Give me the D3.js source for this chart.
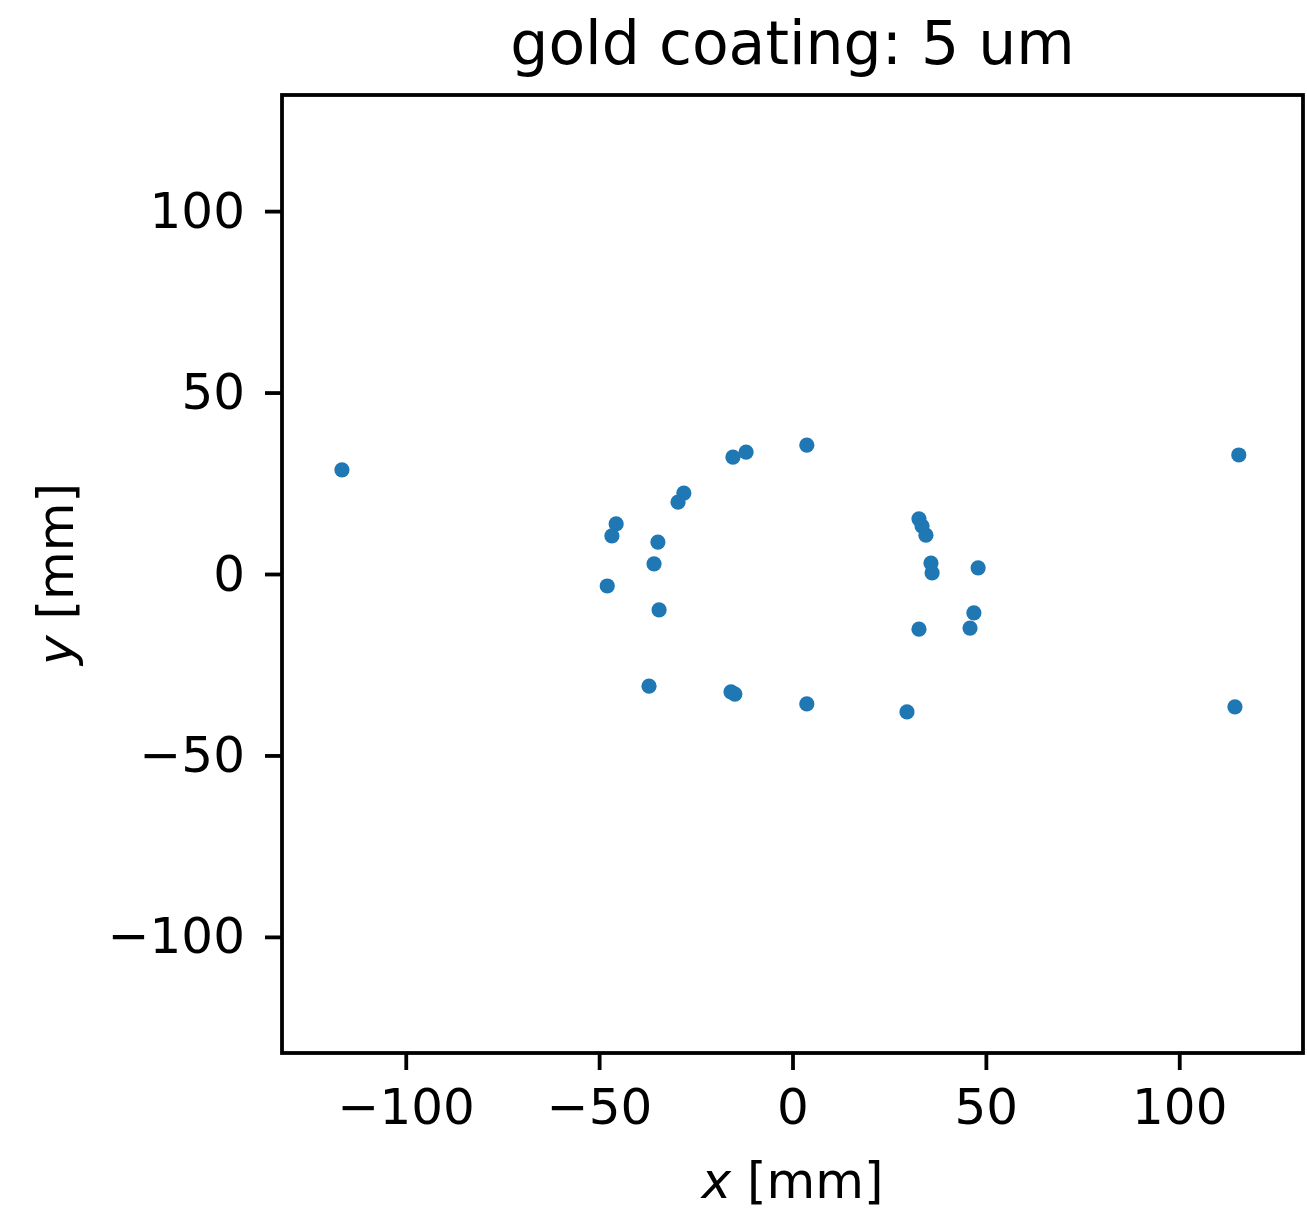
<!DOCTYPE html>
<html>
<head>
<meta charset="utf-8">
<script src="https://cdn.jsdelivr.net/npm/d3@7"></script>
<style>
  html, body { margin: 0; padding: 0; background: #fff; }
  svg text { font-family: "DejaVu Sans", sans-serif; fill: #000; }
</style>
</head>
<body>
<div id="chart"></div>
<script>
// Spot positions (mm)
const xValues = [-116.5, 115.4, 114.4, 3.7, -12.0, -15.4, -28.1, -29.6, -45.6, -46.7,
    -34.8, -35.8, -47.9, -34.5, -37.1, -15.9, -14.9, 3.7, 29.6, 32.7,
    33.5, 34.5, 35.8, 36.1, 48.0, 46.9, 45.9, 32.7];
const yValues = [28.7, 32.8, -36.6, 35.5, 33.6, 32.2, 22.3, 19.8, 13.8, 10.5,
    8.8, 2.8, -3.3, -9.9, -30.9, -32.5, -33.1, -35.8, -38.0, 15.2,
    13.2, 10.7, 3.0, 0.3, 1.7, -10.7, -14.9, -15.2];
const xTicks = [-100, -50, 0, 50, 100];
const yTicks = [-100, -50, 0, 50, 100];
const titleText = 'gold coating: 5 um';

const width = 1307;
const height = 1224;
const margin = { top: 95, right: 4, bottom: 171, left: 282 };
const tickFont = 50;

const svg = d3.select('#chart')
    .append('svg')
    .attr('width', width)
    .attr('height', height);

const xScale = d3.scaleLinear()
    .domain([-132, 132])
    .range([margin.left, width - margin.right]);

const yScale = d3.scaleLinear()
    .domain([-132, 132])
    .range([height - margin.bottom, margin.top]);

const points = xValues.map((x, i) => ({ x: x, y: yValues[i] }));

// Points
svg.append('g')
    .selectAll('circle')
    .data(points)
    .enter()
    .append('circle')
    .attr('cx', d => xScale(d.x))
    .attr('cy', d => yScale(d.y))
    .attr('r', 7.6)
    .attr('fill', '#1f77b4');

// Axes
const xAxis = svg.append('g')
    .attr('transform', `translate(0,${height - margin.bottom})`)
    .call(d3.axisBottom(xScale).tickValues(xTicks).tickSize(17).tickPadding(18));

const yAxis = svg.append('g')
    .attr('transform', `translate(${margin.left},0)`)
    .call(d3.axisLeft(yScale).tickValues(yTicks).tickSize(17).tickPadding(20));

[xAxis, yAxis].forEach(ax => {
    ax.select('.domain').remove();
    ax.selectAll('.tick line').attr('stroke', '#000').attr('stroke-width', 3.8);
    ax.selectAll('.tick text')
        .style('font-size', tickFont + 'px')
        .style('font-family', '"DejaVu Sans", sans-serif');
});

// Frame
svg.append('rect')
    .attr('x', margin.left)
    .attr('y', margin.top)
    .attr('width', width - margin.left - margin.right)
    .attr('height', height - margin.top - margin.bottom)
    .attr('fill', 'none')
    .attr('stroke', '#000')
    .attr('stroke-width', 3.8);

// Title
svg.append('text')
    .attr('x', (margin.left + width - margin.right) / 2)
    .attr('y', 64)
    .attr('text-anchor', 'middle')
    .style('font-size', '60px')
    .text(titleText);

// Axis labels
const xLabel = svg.append('text')
    .attr('x', (margin.left + width - margin.right) / 2)
    .attr('y', 1198)
    .attr('text-anchor', 'middle')
    .style('font-size', tickFont + 'px');
xLabel.append('tspan').style('font-style', 'italic').text('x');
xLabel.append('tspan').text(' [mm]');

const yLabel = svg.append('text')
    .attr('transform', `translate(73,${(margin.top + height - margin.bottom) / 2}) rotate(-90)`)
    .attr('text-anchor', 'middle')
    .style('font-size', tickFont + 'px');
yLabel.append('tspan').style('font-style', 'italic').text('y');
yLabel.append('tspan').text(' [mm]');
</script>
</body>
</html>
